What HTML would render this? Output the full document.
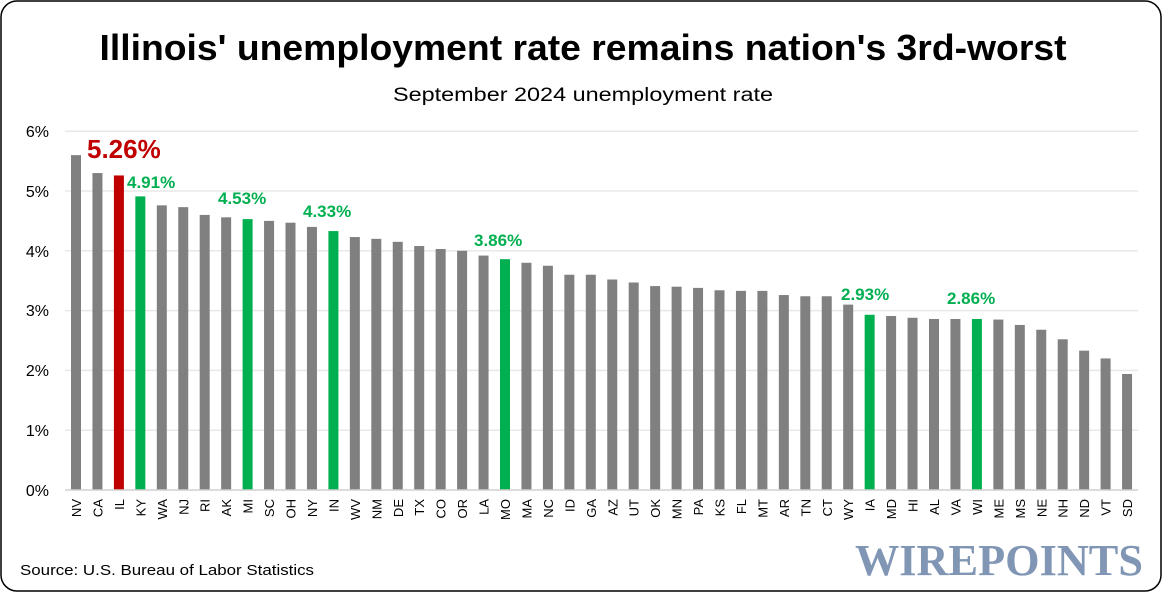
<!DOCTYPE html>
<html><head><meta charset="utf-8"><style>
html,body{margin:0;padding:0;background:#fff;}
svg{display:block;font-family:"Liberation Sans",sans-serif;}
</style></head><body>
<svg width="1167" height="594" viewBox="0 0 1167 594">
<rect x="1" y="1" width="1160" height="590" rx="16" fill="#fff" stroke="#000" stroke-width="1.5"/>
<text x="583" y="60" text-anchor="middle" font-size="36" font-weight="bold" fill="#000" textLength="967" lengthAdjust="spacingAndGlyphs">Illinois' unemployment rate remains nation's 3rd-worst</text>
<text x="583" y="101" text-anchor="middle" font-size="19" fill="#000" textLength="380" lengthAdjust="spacingAndGlyphs">September 2024 unemployment rate</text>
<g stroke="#e8e8e8" stroke-width="1.5">
<line x1="65" x2="1138" y1="131.2" y2="131.2"/><line x1="65" x2="1138" y1="191" y2="191"/><line x1="65" x2="1138" y1="250.8" y2="250.8"/><line x1="65" x2="1138" y1="310.6" y2="310.6"/><line x1="65" x2="1138" y1="370.4" y2="370.4"/><line x1="65" x2="1138" y1="430.2" y2="430.2"/>
</g>
<g font-size="16" text-anchor="end" fill="#000">
<text x="49" y="137">6%</text><text x="49" y="197">5%</text><text x="49" y="257">4%</text><text x="49" y="316">3%</text><text x="49" y="376">2%</text><text x="49" y="436">1%</text><text x="49" y="496">0%</text>
</g>
<g transform="translate(0,490) scale(1,-59.8)" fill="#808080">
<rect x="71" y="0" width="10" height="5.6"/>
<rect x="92.45" y="0" width="10" height="5.3"/>
<rect x="113.9" y="0" width="10" height="5.26" fill="#c00000"/>
<rect x="135.35" y="0" width="10" height="4.91" fill="#00b050"/>
<rect x="156.8" y="0" width="10" height="4.76"/>
<rect x="178.25" y="0" width="10" height="4.73"/>
<rect x="199.7" y="0" width="10" height="4.6"/>
<rect x="221.15" y="0" width="10" height="4.56"/>
<rect x="242.6" y="0" width="10" height="4.53" fill="#00b050"/>
<rect x="264.05" y="0" width="10" height="4.5"/>
<rect x="285.5" y="0" width="10" height="4.47"/>
<rect x="306.95" y="0" width="10" height="4.4"/>
<rect x="328.4" y="0" width="10" height="4.33" fill="#00b050"/>
<rect x="349.85" y="0" width="10" height="4.23"/>
<rect x="371.3" y="0" width="10" height="4.2"/>
<rect x="392.75" y="0" width="10" height="4.15"/>
<rect x="414.2" y="0" width="10" height="4.08"/>
<rect x="435.65" y="0" width="10" height="4.03"/>
<rect x="457.1" y="0" width="10" height="4.0"/>
<rect x="478.55" y="0" width="10" height="3.92"/>
<rect x="500" y="0" width="10" height="3.86" fill="#00b050"/>
<rect x="521.45" y="0" width="10" height="3.8"/>
<rect x="542.9" y="0" width="10" height="3.75"/>
<rect x="564.35" y="0" width="10" height="3.6"/>
<rect x="585.8" y="0" width="10" height="3.6"/>
<rect x="607.25" y="0" width="10" height="3.52"/>
<rect x="628.7" y="0" width="10" height="3.47"/>
<rect x="650.15" y="0" width="10" height="3.41"/>
<rect x="671.6" y="0" width="10" height="3.4"/>
<rect x="693.05" y="0" width="10" height="3.38"/>
<rect x="714.5" y="0" width="10" height="3.34"/>
<rect x="735.95" y="0" width="10" height="3.33"/>
<rect x="757.4" y="0" width="10" height="3.33"/>
<rect x="778.85" y="0" width="10" height="3.26"/>
<rect x="800.3" y="0" width="10" height="3.24"/>
<rect x="821.75" y="0" width="10" height="3.24"/>
<rect x="843.2" y="0" width="10" height="3.1"/>
<rect x="864.65" y="0" width="10" height="2.93" fill="#00b050"/>
<rect x="886.1" y="0" width="10" height="2.91"/>
<rect x="907.55" y="0" width="10" height="2.88"/>
<rect x="929" y="0" width="10" height="2.86"/>
<rect x="950.45" y="0" width="10" height="2.86"/>
<rect x="971.9" y="0" width="10" height="2.86" fill="#00b050"/>
<rect x="993.35" y="0" width="10" height="2.85"/>
<rect x="1014.8" y="0" width="10" height="2.76"/>
<rect x="1036.25" y="0" width="10" height="2.68"/>
<rect x="1057.7" y="0" width="10" height="2.52"/>
<rect x="1079.15" y="0" width="10" height="2.33"/>
<rect x="1100.6" y="0" width="10" height="2.2"/>
<rect x="1122.05" y="0" width="10" height="1.94"/>
</g>
<line x1="65" x2="1138" y1="490" y2="490" stroke="#d0d0d0" stroke-width="1.5"/>
<g font-size="13" text-anchor="end" fill="#000">
<text transform="translate(81,499) rotate(-90)">NV</text>
<text transform="translate(102.45,499) rotate(-90)">CA</text>
<text transform="translate(123.9,499) rotate(-90)">IL</text>
<text transform="translate(145.35,499) rotate(-90)">KY</text>
<text transform="translate(166.8,499) rotate(-90)">WA</text>
<text transform="translate(188.25,499) rotate(-90)">NJ</text>
<text transform="translate(209.7,499) rotate(-90)">RI</text>
<text transform="translate(231.15,499) rotate(-90)">AK</text>
<text transform="translate(252.6,499) rotate(-90)">MI</text>
<text transform="translate(274.05,499) rotate(-90)">SC</text>
<text transform="translate(295.5,499) rotate(-90)">OH</text>
<text transform="translate(316.95,499) rotate(-90)">NY</text>
<text transform="translate(338.4,499) rotate(-90)">IN</text>
<text transform="translate(359.85,499) rotate(-90)">WV</text>
<text transform="translate(381.3,499) rotate(-90)">NM</text>
<text transform="translate(402.75,499) rotate(-90)">DE</text>
<text transform="translate(424.2,499) rotate(-90)">TX</text>
<text transform="translate(445.65,499) rotate(-90)">CO</text>
<text transform="translate(467.1,499) rotate(-90)">OR</text>
<text transform="translate(488.55,499) rotate(-90)">LA</text>
<text transform="translate(510,499) rotate(-90)">MO</text>
<text transform="translate(531.45,499) rotate(-90)">MA</text>
<text transform="translate(552.9,499) rotate(-90)">NC</text>
<text transform="translate(574.35,499) rotate(-90)">ID</text>
<text transform="translate(595.8,499) rotate(-90)">GA</text>
<text transform="translate(617.25,499) rotate(-90)">AZ</text>
<text transform="translate(638.7,499) rotate(-90)">UT</text>
<text transform="translate(660.15,499) rotate(-90)">OK</text>
<text transform="translate(681.6,499) rotate(-90)">MN</text>
<text transform="translate(703.05,499) rotate(-90)">PA</text>
<text transform="translate(724.5,499) rotate(-90)">KS</text>
<text transform="translate(745.95,499) rotate(-90)">FL</text>
<text transform="translate(767.4,499) rotate(-90)">MT</text>
<text transform="translate(788.85,499) rotate(-90)">AR</text>
<text transform="translate(810.3,499) rotate(-90)">TN</text>
<text transform="translate(831.75,499) rotate(-90)">CT</text>
<text transform="translate(853.2,499) rotate(-90)">WY</text>
<text transform="translate(874.65,499) rotate(-90)">IA</text>
<text transform="translate(896.1,499) rotate(-90)">MD</text>
<text transform="translate(917.55,499) rotate(-90)">HI</text>
<text transform="translate(939,499) rotate(-90)">AL</text>
<text transform="translate(960.45,499) rotate(-90)">VA</text>
<text transform="translate(981.9,499) rotate(-90)">WI</text>
<text transform="translate(1003.35,499) rotate(-90)">ME</text>
<text transform="translate(1024.8,499) rotate(-90)">MS</text>
<text transform="translate(1046.25,499) rotate(-90)">NE</text>
<text transform="translate(1067.7,499) rotate(-90)">NH</text>
<text transform="translate(1089.15,499) rotate(-90)">ND</text>
<text transform="translate(1110.6,499) rotate(-90)">VT</text>
<text transform="translate(1132.05,499) rotate(-90)">SD</text>
</g>
<text x="87" y="158" font-size="26" font-weight="bold" fill="#c00000">5.26%</text>
<g font-size="17" font-weight="bold" fill="#00b050">
<text x="127" y="188">4.91%</text>
<text x="218" y="204">4.53%</text>
<text x="303" y="217">4.33%</text>
<text x="474" y="246">3.86%</text>
<text x="841" y="300">2.93%</text>
<text x="947" y="304">2.86%</text>
</g>
<text x="20" y="575" font-size="15" fill="#000" textLength="294" lengthAdjust="spacingAndGlyphs">Source: U.S. Bureau of Labor Statistics</text>
<text x="1143" y="575" text-anchor="end" font-family="Liberation Serif,serif" font-size="44" font-weight="bold" fill="#8096b4" textLength="288" lengthAdjust="spacingAndGlyphs">WIREPOINTS</text>
</svg>
</body></html>
